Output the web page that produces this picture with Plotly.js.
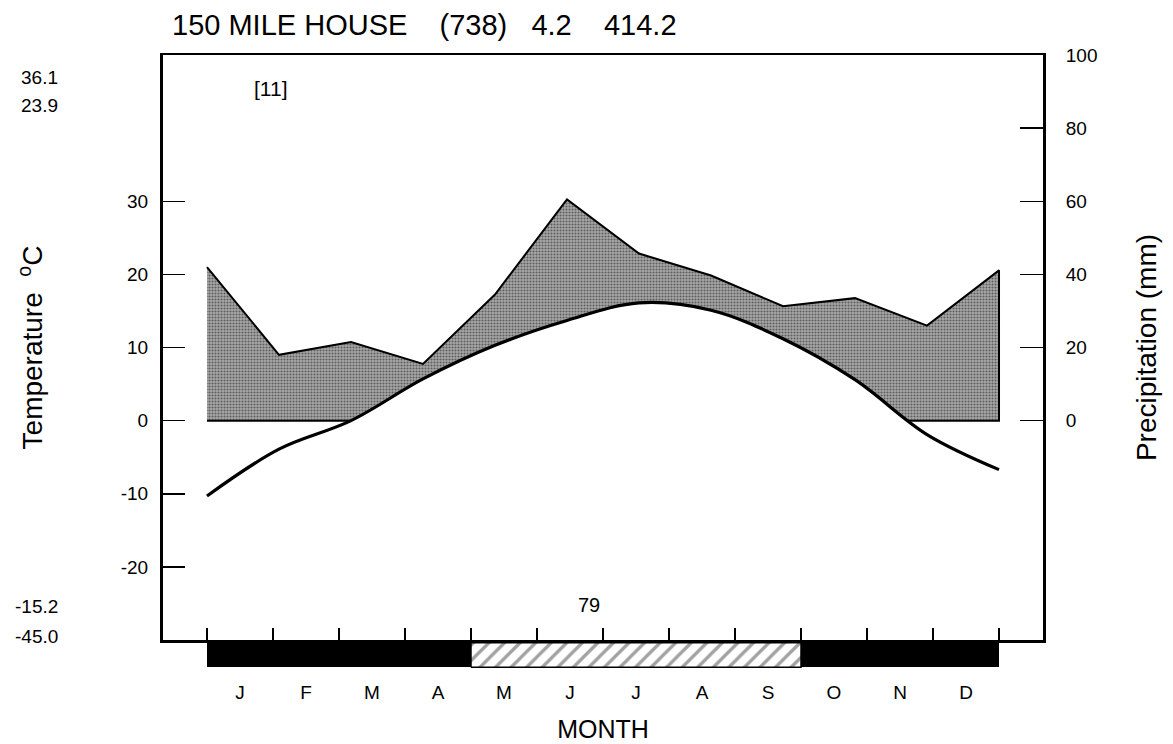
<!DOCTYPE html>
<html>
<head>
<meta charset="utf-8">
<script src="https://cdn.plot.ly/plotly-3.0.1.min.js"></script>
<style>html,body{margin:0;padding:0;background:#fff;}#chart{width:1173px;height:744px;}</style>
</head>
<body>
<div id="chart"></div>
<script>
// ---- data ----
const months = ['J','F','M','A','M','J','J','A','S','O','N','D'];
const precipitation = [42, 18, 21.5, 15.5, 34.5, 60.5, 45.7, 39.7, 31.3, 33.5, 26, 41.1]; // mm
const temperature = [-10.3, -3.9, 0, 5.7, 10.3, 13.7, 16.1, 15.1, 11.2, 5.6, -1.9, -6.7]; // deg C
const frost = ['certain','certain','certain','certain','probable','probable','probable','probable','probable','certain','certain','certain'];
const tempTicks = [-20, -10, 0, 10, 20, 30];
const tempTickText = ['-20', '-10', '0', '10', '20', '30'];
const precipTicks = [0, 20, 40, 60, 80, 100];
const titleText = '150 MILE HOUSE&nbsp;&nbsp;&nbsp;&nbsp;(738)&nbsp;&nbsp;&nbsp;4.2&nbsp;&nbsp;&nbsp;&nbsp;414.2';
const sideNotes = [['36.1', 0.964], ['23.9', 0.918], ['-15.2', 0.101], ['-45.0', 0.052]];

// ---- derived positions ----
const xs = months.map((_, i) => i);
const w = (months.length - 1) / months.length;           // width of one month cell
const cellEdges = Array.from({length: months.length + 1}, (_, k) => k * w);
const cellCenters = months.map((_, i) => (i + 0.5) * w);
const xRange = [-0.611, 11.611];
const tempRange = [-30, 50];
const precipRange = [-60, 100];
const firstProb = frost.indexOf('probable');
const lastProb = frost.lastIndexOf('probable');
const hatchL = firstProb * w, hatchR = (lastProb + 1) * w;

const FONT = 'Liberation Sans, Arial, Helvetica, sans-serif';

const traces = [
  { // precipitation polygon (on precipitation axis)
    type: 'scatter', mode: 'lines', xaxis: 'x', yaxis: 'y',
    x: xs.concat([xs[xs.length - 1], xs[0]]),
    y: precipitation.concat([0, 0]),
    fill: 'toself', fillcolor: '#a0a0a0',
    fillpattern: {shape: '.', bgcolor: '#a8a8a8', fgcolor: '#5e5e5e', size: 3, solidity: 0.4},
    line: {color: 'black', width: 2, shape: 'linear'},
    hoverinfo: 'skip', showlegend: false
  },
  { // baseline at the bottom of the temperature axis
    type: 'scatter', mode: 'lines', xaxis: 'x', yaxis: 'y2',
    x: [xs[0], xs[xs.length - 1]], y: [tempRange[0], tempRange[0]],
    line: {color: 'rgba(0,0,0,0)', width: 0},
    hoverinfo: 'skip', showlegend: false
  },
  { // temperature curve, white below it
    type: 'scatter', mode: 'lines', xaxis: 'x', yaxis: 'y2',
    x: xs, y: temperature,
    fill: 'tonexty', fillcolor: 'white',
    line: {color: 'black', width: 3.2, shape: 'spline', smoothing: 1},
    showlegend: false
  },
  { // frost bar
    type: 'bar', xaxis: 'x2', yaxis: 'y3',
    x: cellCenters, y: months.map(() => 1), width: months.map(() => w),
    marker: {
      color: frost.map(f => f === 'certain' ? 'black' : 'white'),
      line: {width: 0},
      pattern: {
        shape: frost.map(f => f === 'certain' ? '' : '/'),
        fgcolor: 'black', size: 11, solidity: 0.3, fillmode: 'overlay'
      }
    },
    hoverinfo: 'skip', showlegend: false
  },
  { // outline of the hatched run
    type: 'scatter', mode: 'lines', xaxis: 'x2', yaxis: 'y3',
    x: [hatchL, hatchR, hatchR, hatchL, hatchL], y: [0, 0, 1, 1, 0],
    line: {color: 'black', width: 1.5}, hoverinfo: 'skip', showlegend: false
  }
];

const annotations = sideNotes.map(([t, y]) => ({
  text: t, xref: 'paper', yref: 'paper', x: -0.117, y: y,
  xanchor: 'right', yanchor: 'middle', showarrow: false,
  font: {family: FONT, size: 19, color: 'black'}
}));
annotations.push({text: '[11]', xref: 'paper', yref: 'paper', x: (270 - 163) / 880, y: (668 - 88) / 613,
  xanchor: 'center', yanchor: 'middle', showarrow: false, font: {family: FONT, size: 21, color: 'black'}});
annotations.push({text: '79', xref: 'paper', yref: 'paper', x: (589 - 163) / 880, y: (668 - 605) / 613,
  xanchor: 'center', yanchor: 'middle', showarrow: false, font: {family: FONT, size: 20, color: 'black'}});

const mainBottom = 28 / 613;
const layout = {
  width: 1173, height: 744,
  margin: {l: 163, r: 130, t: 55, b: 76},
  paper_bgcolor: 'white', plot_bgcolor: 'rgba(0,0,0,0)',
  font: {family: FONT, color: 'black'},
  title: {text: titleText, x: 172 / 1173, xref: 'container', xanchor: 'left',
          y: 1 - 25 / 744, yref: 'container', yanchor: 'middle',
          font: {family: FONT, size: 29, color: 'black'}},
  showlegend: false,
  bargap: 0,
  xaxis: {
    domain: [0, 1], anchor: 'y', range: xRange,
    tickmode: 'array', tickvals: cellEdges, showticklabels: false,
    ticks: 'inside', ticklen: 12, tickwidth: 1.5, tickcolor: 'black',
    showline: true, linecolor: 'black', linewidth: 2.5, mirror: true,
    showgrid: false, zeroline: false, fixedrange: true
  },
  xaxis2: {
    domain: [0, 1], anchor: 'y3', range: xRange,
    tickmode: 'array', tickvals: cellCenters, ticktext: months,
    ticks: '', showline: false, showgrid: false, zeroline: false,
    tickfont: {family: FONT, size: 19, color: 'black'}, ticklabelstandoff: 11,
    title: {text: 'MONTH', font: {family: FONT, size: 25, color: 'black'}, standoff: 18}
  },
  yaxis: { // precipitation, right
    domain: [mainBottom, 1], anchor: 'x', side: 'right', range: precipRange,
    tickmode: 'array', tickvals: precipTicks,
    ticks: 'inside', ticklen: 23, tickwidth: 1.5, tickcolor: 'black',
    tickfont: {family: FONT, size: 19, color: 'black'}, ticklabelstandoff: 16,
    showline: true, linecolor: 'black', linewidth: 3,
    showgrid: false, zeroline: false,
    title: {text: 'Precipitation (mm)', font: {family: FONT, size: 28, color: 'black'}, standoff: 40}
  },
  yaxis2: { // temperature, left
    overlaying: 'y', anchor: 'x', side: 'left', range: tempRange,
    tickmode: 'array', tickvals: tempTicks, ticktext: tempTickText,
    ticks: 'inside', ticklen: 22, tickwidth: 1.5, tickcolor: 'black',
    tickfont: {family: FONT, size: 19, color: 'black'}, ticklabelstandoff: 8,
    showline: true, linecolor: 'black', linewidth: 3,
    showgrid: false, zeroline: false,
    title: {text: 'Temperature  <sup>o</sup>C', font: {family: FONT, size: 28, color: 'black'}, standoff: 70}
  },
  yaxis3: {domain: [0, 26 / 613], anchor: 'x2', range: [-0.03, 1.03], visible: false, fixedrange: true},
  annotations: annotations
};

Plotly.newPlot('chart', traces, layout, {staticPlot: true, displayModeBar: false});
</script>
</body>
</html>
